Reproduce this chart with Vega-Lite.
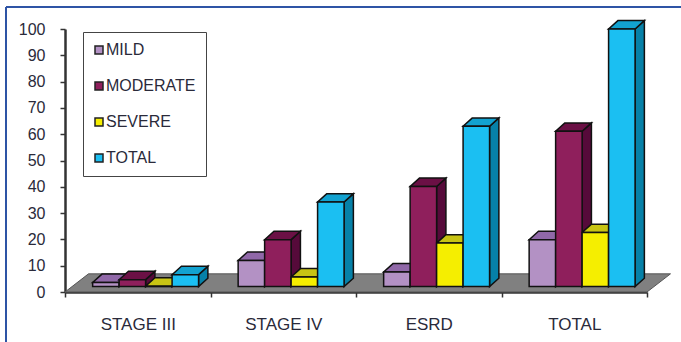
{
  "$schema": "https://vega.github.io/schema/vega-lite/v6.json",
  "autosize": "none",
  "width": 582,
  "height": 263,
  "padding": {"left": 65, "top": 29, "right": 34, "bottom": 50},
  "background": "white",
  "view": {"stroke": null},
  "config": {
    "axisY": {
      "title": null, "tickCount": 11, "values": [0, 10, 20, 30, 40, 50, 60, 70, 80, 90, 100],
      "grid": false, "domainColor": "#333333", "domainWidth": 2.5,
      "tickColor": "#333333", "tickWidth": 1.5, "tickSize": 5,
      "labelFont": "Liberation Sans", "labelFontSize": 16, "labelColor": "#2a2a3a",
      "labelPadding": 15, "labelOverlap": false, "labelBound": false
    }
  },
  "data": {"values": [
    {"group": "STAGE III", "series": "MILD", "value": 3.6},
    {"group": "STAGE III", "series": "MODERATE", "value": 4.7},
    {"group": "STAGE III", "series": "SEVERE", "value": 2.2},
    {"group": "STAGE III", "series": "TOTAL", "value": 6.6},
    {"group": "STAGE IV", "series": "MILD", "value": 12},
    {"group": "STAGE IV", "series": "MODERATE", "value": 19.9},
    {"group": "STAGE IV", "series": "SEVERE", "value": 5.7},
    {"group": "STAGE IV", "series": "TOTAL", "value": 34.2},
    {"group": "ESRD", "series": "MILD", "value": 7.6},
    {"group": "ESRD", "series": "MODERATE", "value": 40.1},
    {"group": "ESRD", "series": "SEVERE", "value": 18.6},
    {"group": "ESRD", "series": "TOTAL", "value": 63},
    {"group": "TOTAL", "series": "MILD", "value": 19.9},
    {"group": "TOTAL", "series": "MODERATE", "value": 61.1},
    {"group": "TOTAL", "series": "SEVERE", "value": 22.6},
    {"group": "TOTAL", "series": "TOTAL", "value": 100}
  ]},
  "transform": [
    {"calculate": "indexof(['STAGE III','STAGE IV','ESRD','TOTAL'], datum.group)", "as": "gi"},
    {"calculate": "indexof(['MILD','MODERATE','SEVERE','TOTAL'], datum.series)", "as": "si"},
    {"calculate": "datum.gi + 0.19 + datum.si * 0.182", "as": "x0"},
    {"calculate": "datum.x0 + 0.182", "as": "x1"},
    {"calculate": "datum.group + '-' + datum.series", "as": "bar"},
    {"calculate": "[0, 1]", "as": "depth"}
  ],
  "layer": [
    {
      "description": "Grey floor of the 3D plot",
      "data": {"values": [{"depth": 0}, {"depth": 1}]},
      "transform": [
        {"calculate": "datum.depth * 6.9", "as": "fy"},
        {"calculate": "datum.depth * 0.1615", "as": "fa"},
        {"calculate": "4 + datum.depth * 0.1615", "as": "fb"}
      ],
      "mark": {"type": "area", "orient": "horizontal", "fill": "#808080", "stroke": "#555555", "strokeWidth": 1, "clip": false},
      "encoding": {
        "y": {
          "field": "fy", "type": "quantitative", "stack": null,
          "scale": {"domain": [0, 100], "nice": false, "zero": false}
        },
        "x": {
          "field": "fa", "type": "quantitative",
          "scale": {"domain": [0, 4], "nice": false, "zero": false},
          "axis": {
            "title": null, "values": [0, 0.5, 1, 1.5, 2, 2.5, 3, 3.5, 4],
            "grid": false, "domainColor": "#333333", "domainWidth": 2.5,
            "tickColor": "#333333", "tickWidth": 1.5, "tickSize": 5,
            "tickOpacity": {"expr": "datum.value % 1 === 0 ? 1 : 0"},
            "labelExpr": "datum.value % 1 === 0 ? '' : ['STAGE III','STAGE IV','ESRD','TOTAL'][floor(datum.value)]",
            "labelFont": "Liberation Sans", "labelFontSize": 17, "labelColor": "#2a2a3a",
            "labelAngle": 0, "labelPadding": 19, "labelOverlap": false, "labelBound": false, "labelFlush": false
          }
        },
        "x2": {"field": "fb"}
      }
    },
    {
      "description": "Right-hand faces of the bars",
      "transform": [
        {"flatten": ["depth"]},
        {"calculate": "datum.x1 + datum.depth * 0.064", "as": "sx"},
        {"calculate": "datum.value + datum.depth * 3.2", "as": "st"},
        {"calculate": "2.05 + datum.depth * 3.2", "as": "sb"}
      ],
      "mark": {"type": "area", "stroke": "#111111", "strokeWidth": 1.5, "line": false},
      "encoding": {
        "x": {"field": "sx", "type": "quantitative"},
        "y": {"field": "st", "type": "quantitative", "stack": null},
        "y2": {"field": "sb"},
        "detail": {"field": "bar"},
        "color": {
          "field": "series", "type": "nominal", "legend": null,
          "scale": {"domain": ["MILD", "MODERATE", "SEVERE", "TOTAL"], "range": ["#7f5f96", "#560a3a", "#a8a400", "#0681a8"]}
        }
      }
    },
    {
      "description": "Top faces of the bars",
      "transform": [
        {"flatten": ["depth"]},
        {"calculate": "datum.value + datum.depth * 3.2", "as": "ty"},
        {"calculate": "datum.x0 + datum.depth * 0.064", "as": "ta"},
        {"calculate": "datum.x1 + datum.depth * 0.064", "as": "tb"}
      ],
      "mark": {"type": "area", "orient": "horizontal", "stroke": "#111111", "strokeWidth": 1.5, "line": false},
      "encoding": {
        "y": {"field": "ty", "type": "quantitative", "stack": null},
        "x": {"field": "ta", "type": "quantitative"},
        "x2": {"field": "tb"},
        "detail": {"field": "bar"},
        "color": {
          "field": "series", "type": "nominal", "legend": null,
          "scale": {"domain": ["MILD", "MODERATE", "SEVERE", "TOTAL"], "range": ["#9068a8", "#6b1045", "#c8c414", "#12a2d0"]}
        }
      }
    },
    {
      "description": "Front faces of the bars, which also carry the legend",
      "mark": {"type": "rect", "stroke": "#111111", "strokeWidth": 1.5},
      "encoding": {
        "x": {"field": "x0", "type": "quantitative"},
        "x2": {"field": "x1"},
        "y": {"field": "value", "type": "quantitative"},
        "y2": {"datum": 2.05},
        "color": {
          "field": "series", "type": "nominal",
          "scale": {"domain": ["MILD", "MODERATE", "SEVERE", "TOTAL"], "range": ["#b391c4", "#8f1f5c", "#f5ee00", "#1bbff2"]},
          "legend": {
            "title": null, "orient": "none", "legendX": 18, "legendY": 3,
            "fillColor": "white", "strokeColor": "#444444", "padding": 10,
            "symbolType": "square", "symbolSize": 64, "symbolStrokeColor": "#222222", "symbolStrokeWidth": 1.5,
            "symbolOffset": -2,
            "labelFont": "Liberation Sans", "labelFontSize": 16, "labelColor": "#2a2a3a", "labelOffset": -1,
            "rowPadding": 20, "labelLimit": 200
          }
        }
      }
    },
    {
      "description": "Blue frame along the top of the chart",
      "mark": {"type": "rule", "color": "#2f55a5", "strokeWidth": 1.5},
      "encoding": {
        "x": {"datum": -0.405},
        "x2": {"datum": 4.24},
        "y": {"datum": 108.3}
      }
    },
    {
      "description": "Blue frame along the left of the chart",
      "mark": {"type": "rule", "color": "#2f55a5", "strokeWidth": 1.5},
      "encoding": {
        "x": {"datum": -0.405},
        "y": {"datum": 108.3},
        "y2": {"datum": -19}
      }
    }
  ],
  "resolve": {"scale": {"color": "independent"}}
}
